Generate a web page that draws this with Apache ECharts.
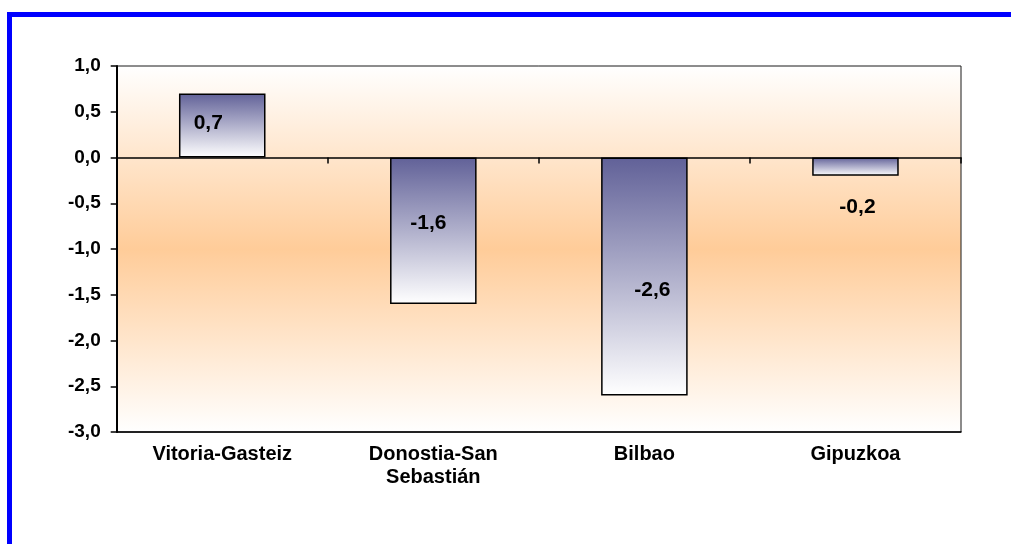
<!DOCTYPE html>
<html>
<head>
<meta charset="utf-8">
<script src="https://cdn.jsdelivr.net/npm/echarts@6/dist/echarts.min.js"></script>
<style>
html, body { margin: 0; padding: 0; background: #ffffff; }
#frame { position: absolute; left: 7px; top: 12px; width: 1004px; height: 532px;
  border-left: 5px solid #0000ff; border-top: 5px solid #0000ff; box-sizing: border-box; }
#chart { position: absolute; left: 0; top: 0; width: 1011px; height: 544px; }
</style>
</head>
<body>
<div id="frame"></div>
<div id="chart"></div>
<script>
// Data
const categories = ['Vitoria-Gasteiz', 'Donostia-San\nSebastián', 'Bilbao', 'Gipuzkoa'];
const values = [0.7, -1.6, -2.6, -0.2];
const yMin = -3.0;
const yMax = 1.0;
const yStep = 0.5;

// Label placement (style only)
const labelOffsets = [[-14, -2], [-5, -7], [8, 14], [2, 41]];

const fmt = v => Number(v).toFixed(1).replace('.', ',');
const font = 'Liberation Sans, Arial, sans-serif';

const chart = echarts.init(document.getElementById('chart'));
chart.setOption({
  animation: false,
  grid: {
    left: 116.7, top: 66, right: 50, bottom: 112,
    show: true,
    borderColor: '#1a1a1a',
    borderWidth: 1,
    backgroundColor: new echarts.graphic.LinearGradient(0, 0, 0, 1, [
      { offset: 0, color: '#ffffff' },
      { offset: 0.5, color: '#ffcc99' },
      { offset: 1, color: '#ffffff' }
    ])
  },
  xAxis: [
    {
      type: 'category',
      data: categories,
      position: 'bottom',
      axisLine: { onZero: true, lineStyle: { color: '#000', width: 1.5 } },
      axisTick: { show: true, length: 6, lineStyle: { color: '#000', width: 1.5 } },
      axisLabel: { show: false },
      splitLine: { show: false }
    },
    {
      type: 'category',
      data: categories,
      position: 'bottom',
      axisLine: { onZero: false, show: true, lineStyle: { color: '#000', width: 1.5 } },
      axisTick: { show: false },
      axisLabel: {
        show: true, margin: 11, color: '#000', fontFamily: font,
        fontWeight: 'bold', fontSize: 20, lineHeight: 23, interval: 0
      },
      splitLine: { show: false }
    }
  ],
  yAxis: {
    type: 'value',
    min: yMin, max: yMax, interval: yStep,
    axisLine: { show: true, lineStyle: { color: '#000', width: 2 } },
    axisTick: { show: true, length: 6, lineStyle: { color: '#000', width: 1.5 } },
    axisLabel: {
      margin: 16, color: '#000', fontFamily: font, fontWeight: 'bold', fontSize: 19,
      formatter: v => fmt(v)
    },
    splitLine: { show: false }
  },
  series: [{
    type: 'bar',
    xAxisIndex: 0,
    barWidth: '41%',
    data: values.map((v, i) => ({
      value: v,
      label: { offset: labelOffsets[i] }
    })),
    itemStyle: {
      color: new echarts.graphic.LinearGradient(0, 0, 0, 1, [
        { offset: 0, color: '#616198' },
        { offset: 1, color: '#ffffff' }
      ]),
      borderColor: '#000',
      borderWidth: 1.5
    },
    label: {
      show: true, position: 'inside', color: '#000', fontFamily: font,
      fontWeight: 'bold', fontSize: 21,
      formatter: p => fmt(p.value)
    }
  }]
});
</script>
</body>
</html>
